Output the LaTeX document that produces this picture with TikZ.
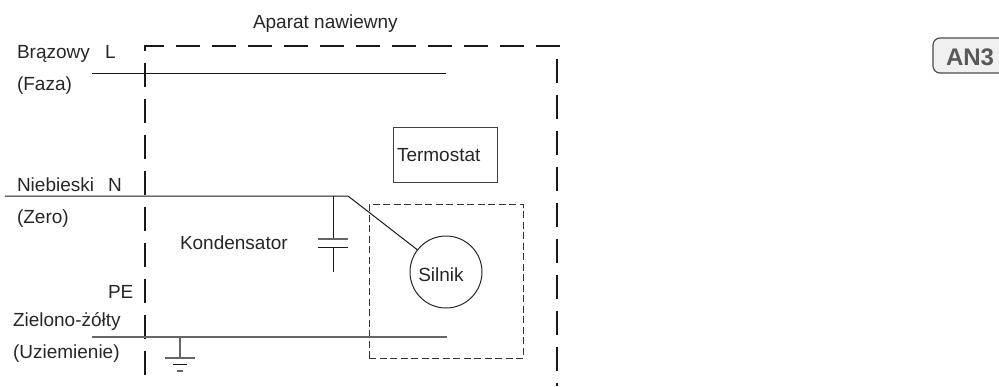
\documentclass[tikz,border=0pt]{standalone}
\usepackage{fontspec}
\setmainfont{Liberation Sans}
\tikzstyle{txt} = [anchor=base west, inner sep=0pt, outer sep=0pt, text=black!85, font=\fontsize{19}{22}\selectfont]
\tikzstyle{wire} = [line width=1pt, draw=black!90]
\tikzstyle{greywire} = [line width=1.3pt, draw=black!60]
\tikzstyle{frame} = [line width=2.8pt, draw=black!90, dash pattern=on 24pt off 12pt]
\tikzstyle{inner} = [line width=1pt, draw=black!80, dash pattern=on 7pt off 3.5pt]

\begin{document}
\begin{tikzpicture}[x=1pt,y=-1pt]
\useasboundingbox (0,0) rectangle (999,386);

% frame
\draw[frame] (145,375) -- (145,46) -- (560,46);
\draw[frame] (557,59) -- (557,386);
\draw[inner] (369,358) -- (369,204) -- (523,204) -- (523,358) -- cycle;

% parts
\node[draw=black!75, line width=1pt, minimum width=104pt, minimum height=55pt, inner sep=0pt] (BoxTermostat) at (445,154.5) {};
\node[txt] (Termostat) at (397,161) {Termostat};
\node[draw=black!85, line width=1pt, circle, minimum size=72pt, inner sep=0pt] (Silnik) at (446,272) {};
\node[txt, anchor=base] (SilnikLabel) at (441,281) {Silnik};

% labels
\node[txt] (Aparat) at (253,28) {Aparat nawiewny};
\node[txt] (Brazowy) at (17,58) {Brązowy};
\node[txt] (L) at (105,58) {L};
\node[txt] (Faza) at (17,90) {(Faza)};
\node[txt] (Niebieski) at (17,191) {Niebieski};
\node[txt] (N) at (108,191) {N};
\node[txt] (Zero) at (17,223) {(Zero)};
\node[txt] (Kondensator) at (180,249) {Kondensator};
\node[txt] (PE) at (108,298) {PE};
\node[txt] (Zielono) at (13,326) {Zielono-żółty};
\node[txt] (Uziemienie) at (13,358) {(Uziemienie)};

% wires
\coordinate (LStart) at (92,73);
\coordinate (LEnd) at (446,73);
\coordinate (NStart) at (5,196);
\coordinate (NBend) at (348,196);
\coordinate (CapTop) at (333,196);
\coordinate (PlateA) at (333,239);
\coordinate (PlateB) at (333,247);
\coordinate (CapEnd) at (333,272);
\coordinate (PEStart) at (92,337);
\coordinate (PEEnd) at (447,337);
\coordinate (GndTop) at (180,337);
\coordinate (GndBottom) at (180,358);

\draw[wire] (LStart) -- (LEnd);
\draw[wire] (NStart) -- (NBend) -- (Silnik);
\draw[wire] (CapTop) -- (PlateA);
\draw[wire] (PlateB) -- (CapEnd);
\draw[greywire, line width=1.6pt] ([xshift=-15pt]PlateA) -- ([xshift=15pt]PlateA);
\draw[wire] ([xshift=-15pt]PlateB) -- ([xshift=15pt]PlateB);
\draw[greywire] (PEStart) -- (PEEnd);
\draw[greywire] (GndTop) -- (GndBottom);
\draw[greywire] ([xshift=-15pt]GndBottom) -- ([xshift=15pt]GndBottom);
\draw[wire] ([xshift=-7pt,yshift=-6pt]GndBottom) -- ([xshift=7pt,yshift=-6pt]GndBottom);
\draw[greywire] ([xshift=-3pt,yshift=-13pt]GndBottom) -- ([xshift=3pt,yshift=-13pt]GndBottom);

% tag
\fill[black!6, rounded corners=7pt] (1005,73) -- (933,73) -- (933,38) -- (1005,38) -- cycle;
\draw[line width=1.2pt, draw=black!70, rounded corners=7pt] (999,73) -- (933,73) -- (933,38) -- (999,38);
\node[txt, text=black!65, font=\fontsize{24}{26}\selectfont\bfseries] (AN3) at (946,65) {AN3};
\end{tikzpicture}
\end{document}
